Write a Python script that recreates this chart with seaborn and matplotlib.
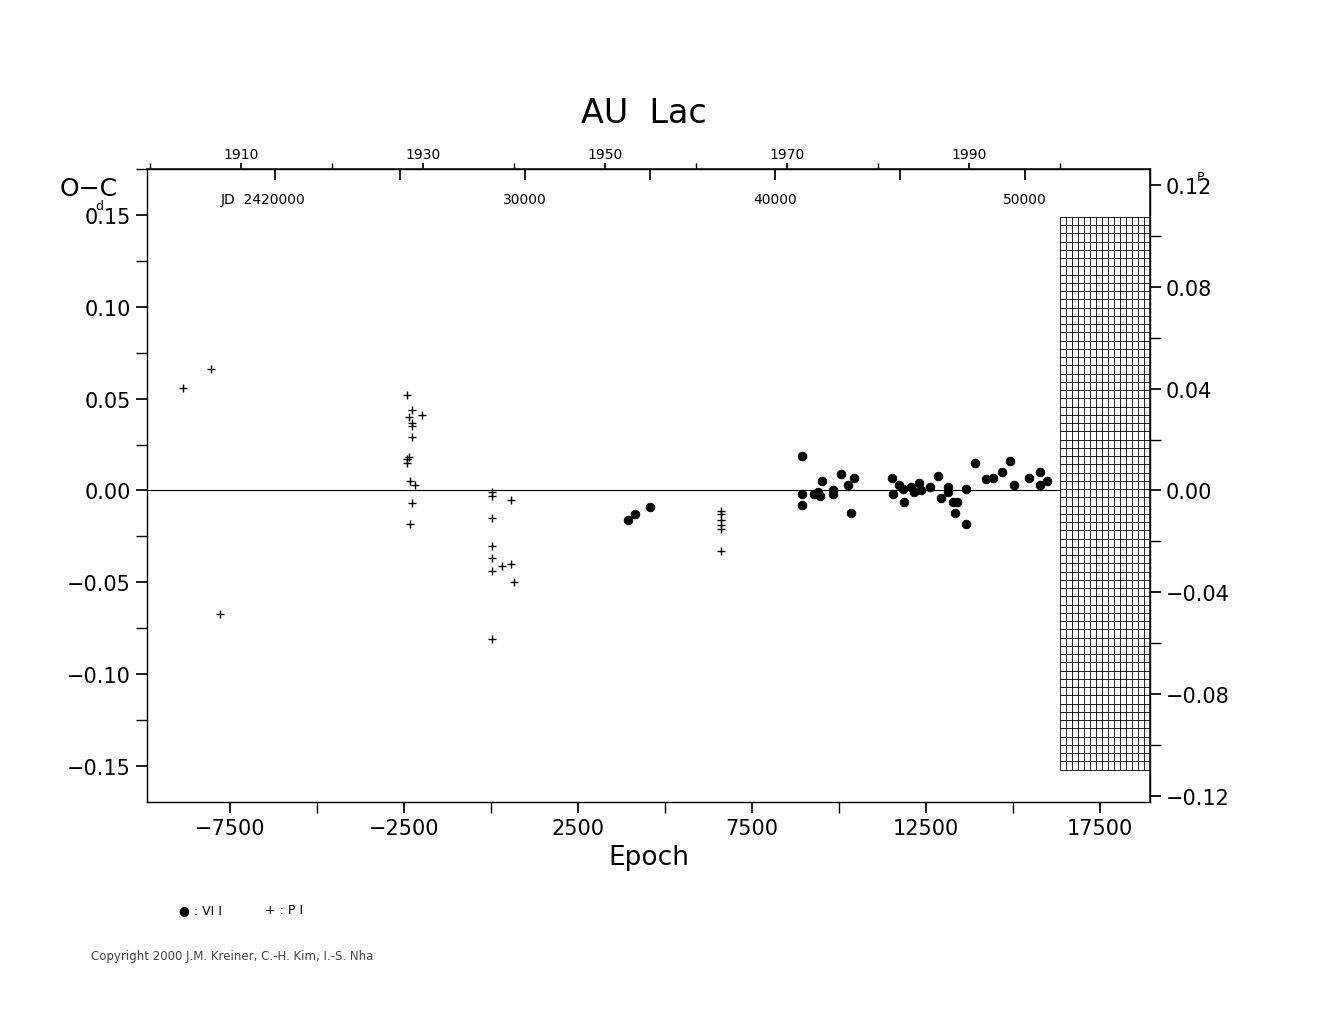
import matplotlib
matplotlib.use("Agg")
import matplotlib.pyplot as plt
import seaborn as sns
import numpy as np

sns.set_theme(style="white")
plt.rcParams['font.family'] = ['DejaVu Sans']
plt.rcParams['text.color'] = 'black'
plt.rcParams['axes.labelcolor'] = 'black'

# PI (photographic) minima: epoch, O-C (days)
pi_epoch = [-8850, -8046, -7787,
            -2414, -2414, -2414, -2356, -2356, -2328, -2328, -2270, -2270, -2270, -2270, -2270, -2184, -1983,
            29, 29, 29, 29, 29, 29, 29, 316, 574, 574, 661,
            6609, 6609, 6609, 6609, 6609, 6609]
pi_oc = [0.056, 0.066, -0.067,
         0.052, 0.017, 0.015, 0.040, 0.018, 0.005, -0.018, 0.044, 0.037, 0.035, 0.029, -0.007, 0.003, 0.041,
         -0.001, -0.003, -0.015, -0.030, -0.037, -0.044, -0.081, -0.041, -0.040, -0.005, -0.050,
         -0.011, -0.013, -0.016, -0.019, -0.021, -0.033]
# VI (visual) minima
vi_epoch = [3937, 4138, 4569,
            8937, 8937, 8937, 9282, 9397, 9454, 9511, 9397, 9828, 9828, 10057, 10259, 10345, 10431,
            11523, 11552, 11724, 11839, 11868, 12069, 12155, 12299, 12356, 12615, 12845, 12931, 13132, 13132,
            13276, 13391, 13333, 13649, 13649, 13908, 14224, 14425, 14684, 14914, 15029, 15460, 15776, 15776, 15977]
vi_oc = [-0.016, -0.013, -0.009,
         0.019, -0.002, -0.008, -0.002, -0.001, -0.003, 0.005, -0.002, 0.000, -0.002, 0.009, 0.003, -0.012, 0.007,
         0.007, -0.002, 0.003, 0.001, -0.006, 0.002, -0.001, 0.004, 0.000, 0.002, 0.008, -0.004, 0.002, -0.001,
         -0.006, -0.006, -0.012, 0.001, -0.018, 0.015, 0.006, 0.007, 0.010, 0.016, 0.003, 0.007, 0.010, 0.003, 0.005]

title = "AU  Lac"
year_ticks = [1910, 1930, 1950, 1970, 1990]
jd_ticks = [30000, 40000, 50000]

PXE = 0.0348  # px per epoch
def e2x(e): return 230 + (np.asarray(e) + 7500) * PXE
def x2e(x): return -7500 + (np.asarray(x) - 230) / PXE
def e2yr(e): return 1910 + (e2x(e) - 241) / 9.1
def yr2e(y): return x2e(241 + (np.asarray(y) - 1910) * 9.1)
def e2jd(e): return 20000 + (e2x(e) - 275) / 0.025
def jd2e(j): return x2e(275 + (np.asarray(j) - 20000) * 0.025)

XL = (-9885, 18937)
YL = (-0.1696, 0.175)

fig = plt.figure(figsize=(13.25, 10.2), dpi=100)
ax = fig.add_axes([0.111, 0.2127, 0.757, 0.6206])

sns.scatterplot(x=pi_epoch, y=pi_oc, marker='+', s=30, color='black', linewidth=1, ax=ax, legend=False)
sns.scatterplot(x=vi_epoch, y=vi_oc, marker='o', s=40, color='black', edgecolor='black', ax=ax, legend=False)
ax.axhline(0, color='black', lw=0.8, xmax=(x2e(1060) - XL[0]) / (XL[1] - XL[0]))

for s in ax.spines.values():
    s.set_color('black'); s.set_linewidth(1)

# hatched region
xs = x2e(np.arange(1060, 1152, 6))
ys = np.linspace(0.149, -0.152, 68)
ax.vlines(xs, -0.152, 0.149, color='black', lw=0.6)
ax.hlines(ys, x2e(1060), x2e(1150), color='black', lw=0.6)

ax.set_xticks([-7500, -2500, 2500, 7500, 12500, 17500])
ax.set_xticks(np.arange(-10000, 18937, 2500), minor=True)
ax.set_yticks([-0.15, -0.10, -0.05, 0.0, 0.05, 0.10, 0.15])
ax.set_yticklabels(['\u22120.15', '\u22120.10', '\u22120.05', '0.00', '0.05', '0.10', '0.15'])
ax.set_yticks(np.arange(-0.15, 0.176, 0.025), minor=True)
ax.tick_params(axis='both', which='both', direction='out', bottom=True, left=True, labelsize=15, colors='black', length=8)
ax.set_xlim(*XL)
ax.set_ylim(*YL)
ax.set_xlabel('Epoch', fontsize=19, color='black')

ratio = 1.386
sec = ax.secondary_yaxis('right', functions=(lambda d: d / ratio, lambda p: p * ratio))
sec.set_yticks([-0.12, -0.08, -0.04, 0.0, 0.04, 0.08, 0.12])
sec.set_yticklabels(['\u22120.12', '\u22120.08', '\u22120.04', '0.00', '0.04', '0.08', '0.12'])
sec.set_yticks(np.arange(-0.12, 0.121, 0.02), minor=True)
sec.tick_params(which='both', direction='out', length=8, labelsize=15, colors='black')

top = ax.secondary_xaxis('top', functions=(e2yr, yr2e))
top.set_xticks(year_ticks)
top.set_xticks(np.arange(1900, 2011, 10), minor=True)
top.tick_params(which='both', direction='out', length=4, pad=2, labelsize=10, colors='black')
jdax = ax.secondary_xaxis('top', functions=(e2jd, jd2e))
jdax.set_xticks(np.arange(20000, 54000, 5000))
jdax.set_xticklabels([])
jdax.tick_params(direction='in', length=8, colors='black')
jdax.spines['top'].set_visible(False)
for j in jd_ticks:
    ax.text(float(jd2e(j)), 0.1585, str(j), ha='center', va='center', fontsize=10, color='black')
ax.text(float(jd2e(19500)), 0.1585, 'JD  2420000', ha='center', va='center', fontsize=10, color='black')

fig.text(0.486, 0.889, title, ha='center', va='center', fontsize=24, color='black')
fig.text(0.045, 0.815, 'O\u2212C', fontsize=18, va='center')
fig.text(0.072, 0.798, 'd', fontsize=9, va='center')
fig.text(0.903, 0.826, 'P', fontsize=9, va='center')

fig.text(0.135, 0.107, '\u25cf : VI I', fontsize=9, va='center')
fig.text(0.200, 0.107, '+ : P I', fontsize=9, va='center')
fig.text(0.069, 0.062, 'Copyright 2000 J.M. Kreiner, C.-H. Kim, I.-S. Nha', fontsize=8.5, color='#444444', va='center')

fig.savefig('out.png', dpi=100)
